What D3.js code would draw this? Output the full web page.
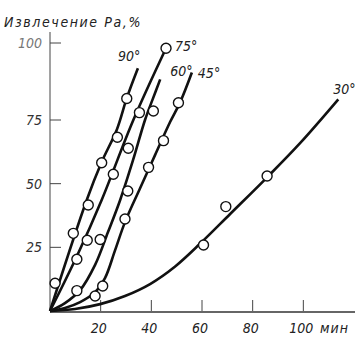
<!DOCTYPE html>
<html>
<head>
<meta charset="utf-8">
<script src="https://cdn.jsdelivr.net/npm/d3@7"></script>
<style>
  body { margin: 0; background: #fff; }
  svg text { font-family: "DejaVu Sans Condensed", "DejaVu Sans", sans-serif; font-style: italic; fill: #222; }
</style>
</head>
<body>
<div id="chart"></div>
<script>
// angles of the curves
var angles = ["90°", "75°", "60°", "45°", "30°"];

// smooth curves, [minutes, extraction %]
var line90 = [[0,0],[14.5,43.6],[20.4,58.5],[26.4,71.3],[30.3,82.1],[34.7,91.8]];
var line75 = [[0,0],[10.6,21.5],[20.4,43.6],[32.9,75],[45.8,98.3]];
var line60 = [[0,0],[5.9,3.1],[11.9,8.2],[17.8,18.1],[22.9,31.0],[27.7,43.6],[32.8,59.3],[37.5,75],[40.7,82.1],[43.5,88.2]];
var line45 = [[0,0],[5.9,1.2],[11.9,3.5],[17.8,7.4],[21.7,12.9],[25.7,23.9],[29.6,34.9],[35.6,48.3],[41.5,61.3],[47.4,74.2],[51.4,80.8],[56.0,90.4]];
var line30 = [[0,0],[9.9,0.8],[19.8,2.7],[29.6,5.9],[39.5,10.6],[49.4,17.5],[59.3,26.5],[71.1,38.1],[85.8,52.6],[98.8,66.0],[113.8,81.7]];

// measured points
var pts90 = [[2.0,10.9],[9.2,30.5],[15.1,41.6],[20.4,58.2],[26.6,68.2],[30.3,82.0]];
var pts75 = [[10.6,20.3],[14.7,27.8],[25.0,53.7],[30.9,63.9],[35.3,77.4],[45.8,98.3]];
var pts60 = [[10.6,8.0],[19.8,28.1],[30.7,47.1],[40.8,77.9]];
var pts45 = [[17.8,5.9],[20.8,9.8],[29.6,36.1],[38.9,56.4],[44.8,66.9],[50.7,80.6]];
var pts30 = [[60.6,25.9],[69.4,41.0],[85.7,53.0]];

var xTicks = [20, 40, 60, 80, 100];
var yTicks = [25, 50, 75, 100];

var lines = [line90, line75, line60, line45, line30];
var points = [pts90, pts75, pts60, pts45, pts30];
// label offsets from the end of each curve (px)
var labelOff = [[-20,-7],[9,3],[10,-3],[6,5],[-5,-5]];

var width = 364, height = 338;

var svg = d3.select("#chart")
  .append("svg")
    .attr("width", width)
    .attr("height", height);

// scales (the scanned y axis is stretched above 75)
var x = d3.scaleLinear().domain([0, 120]).range([50, 354]);
var y = d3.scaleLinear().domain([0, 75, 100]).range([311, 120, 43]);

// axes lines
svg.append("line")
  .attr("x1", x(0)).attr("x2", x(0))
  .attr("y1", y(0)).attr("y2", 32)
  .attr("stroke", "#444").attr("stroke-width", 1);
svg.append("line")
  .attr("x1", x(0)).attr("x2", 355)
  .attr("y1", y(0) + 1).attr("y2", y(0) + 1)
  .attr("stroke", "#333").attr("stroke-width", 1.3);

// x ticks
svg.selectAll(".xt")
  .data(xTicks)
  .enter()
  .append("line")
    .attr("x1", function(d) { return x(d); })
    .attr("x2", function(d) { return x(d); })
    .attr("y1", y(0))
    .attr("y2", y(0) - 11)
    .attr("stroke", "#444");
svg.selectAll(".xl")
  .data(xTicks)
  .enter()
  .append("text")
    .attr("x", function(d) { return x(d) - 2; })
    .attr("y", 333)
    .attr("text-anchor", "middle")
    .style("font-size", "14px")
    .text(function(d) { return d; });
svg.append("text")
  .attr("x", 320).attr("y", 333)
  .style("font-size", "14px")
  .style("letter-spacing", "1px")
  .text("мин");

// y ticks
svg.selectAll(".yt")
  .data(yTicks)
  .enter()
  .append("line")
    .attr("x1", x(0))
    .attr("x2", x(0) + 11)
    .attr("y1", function(d) { return y(d); })
    .attr("y2", function(d) { return y(d); })
    .attr("stroke", "#444");
svg.selectAll(".yl")
  .data(yTicks)
  .enter()
  .append("text")
    .attr("x", 42)
    .attr("y", function(d) { return y(d) + 5; })
    .attr("text-anchor", "end")
    .style("font-size", "14px")
    .style("fill", function(d) { return d == 100 ? "#777" : "#333"; })
    .text(function(d) { return d; });

// title
svg.append("text")
  .attr("x", 4).attr("y", 27)
  .style("font-size", "14px")
  .style("letter-spacing", "1.6px")
  .text("Извлечение Ра,%");

// curves
var path = d3.line()
  .x(function(d) { return x(d[0]); })
  .y(function(d) { return y(d[1]); })
  .curve(d3.curveCatmullRom);

svg.selectAll(".curve")
  .data(lines)
  .enter()
  .append("path")
    .attr("d", path)
    .attr("fill", "none")
    .attr("stroke", "#111")
    .attr("stroke-width", 2.6);

// points
points.forEach(function(p) {
  svg.selectAll(null)
    .data(p)
    .enter()
    .append("circle")
      .attr("cx", function(d) { return x(d[0]); })
      .attr("cy", function(d) { return y(d[1]); })
      .attr("r", 5)
      .attr("fill", "#fff")
      .attr("stroke", "#111")
      .attr("stroke-width", 1.4);
});

// angle labels
lines.forEach(function(l, i) {
  var end = l[l.length - 1];
  svg.append("text")
    .attr("x", x(end[0]) + labelOff[i][0])
    .attr("y", y(end[1]) + labelOff[i][1])
    .style("font-size", "14px")
    .text(angles[i]);
});
</script>
</body>
</html>
